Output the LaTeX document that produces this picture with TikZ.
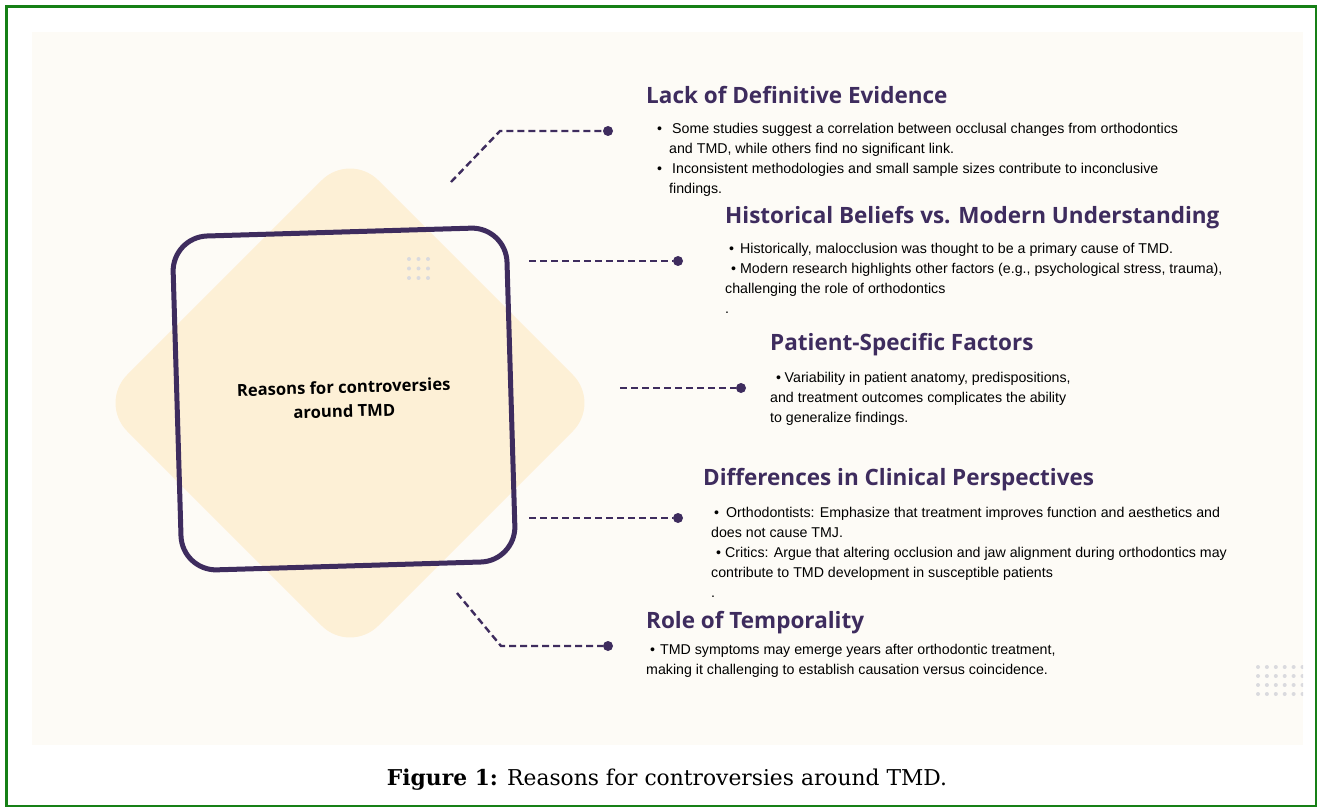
\documentclass[tikz,border=0pt]{standalone}
\usepackage{fontspec}
\setmainfont{DejaVu Serif}
\setsansfont{Liberation Sans}
\newfontfamily\headfont{Open Sans}
\usetikzlibrary{positioning}

\definecolor{tmdpurple}{RGB}{62,44,94}
\definecolor{tmdpeach}{RGB}{253,240,214}
\definecolor{tmdpanel}{RGB}{253,251,246}
\definecolor{tmdgreen}{RGB}{22,128,22}
\definecolor{tmddot}{RGB}{218,218,222}

\newcommand{\bul}{\textbullet}

\tikzset{
  heading/.style={anchor=base west, inner sep=0pt, text=tmdpurple,
    font=\headfont\bfseries\fontsize{22.5}{26}\selectfont},
  bullets/.style={anchor=north west, inner sep=0pt, align=left,
    font=\sffamily\fontsize{14.2}{20}\selectfont},
  link/.style={draw=tmdpurple, line width=2.4pt, dash pattern=on 7pt off 4pt},
  tip/.style={circle, fill=tmdpurple, inner sep=0pt, minimum size=10pt},
  greydot/.style={fill=tmddot},
}

\begin{document}
\begin{tikzpicture}[x=1pt, y=-1pt]
  \useasboundingbox (0,0) rectangle (1320,810);
  % frame and panel
  \draw[tmdgreen, line width=2.5pt] (6.5,6.5) rectangle (1316,806);
  \fill[tmdpanel] (32,32) rectangle (1303,745);

  % tilted peach square behind the hub
  \node[rectangle, fill=tmdpeach, rounded corners=40pt, minimum size=355pt,
        rotate=45] (backdrop) at (350,403) {};

  % dot grids
  \foreach \i in {0,1,2}
    \foreach \j in {0,1,2}
      \fill[greydot] (409+9.5*\i, 259+9.5*\j) circle (2pt);
  \begin{scope}
    \clip (32,32) rectangle (1303,745);
    \foreach \i in {0,...,5}
      \foreach \j in {0,...,3}
        \fill[greydot] (1258+8.9*\i, 667+9*\j) circle (2pt);
  \end{scope}

  % hub
  \node[draw=tmdpurple, line width=5pt, rounded corners=35pt,
        minimum size=334pt, rotate=1.7, align=center,
        font=\headfont\bfseries\fontsize{16.6}{24}\selectfont] (hub) at (344,399)
        {Reasons for controversies\\around TMD};

  % connectors
  \coordinate (l1a) at (451,182);
  \coordinate (l1b) at (500,131);
  \coordinate (l2a) at (529,261);
  \coordinate (l3a) at (620,388);
  \coordinate (l4a) at (529,518);
  \coordinate (l5a) at (457,593);
  \coordinate (l5b) at (501,646);
  \node[tip] (t1) at (608,131) {};
  \node[tip] (t2) at (678,261) {};
  \node[tip] (t3) at (741,388) {};
  \node[tip] (t4) at (678,518) {};
  \node[tip] (t5) at (608,646) {};

  \draw[link] (l1a) -- (l1b) -- (t1.west);
  \draw[link] (l2a) -- (t2.west);
  \draw[link] (l3a) -- (t3.west);
  \draw[link] (l4a) -- (t4.west);
  \draw[link] (l5a) -- (l5b) -- (t5.west);

  % headings
  \node[heading] (h1) at (646,104) {Lack of Definitive Evidence};
  \node[heading] (h2) at (725,224) {Historical Beliefs vs. Modern Understanding};
  \node[heading] (h3) at (770,350) {Patient-Specific Factors};
  \node[heading] (h4) at (703,485) {Differences in Clinical Perspectives};
  \node[heading] (h5) at (646,628) {Role of Temporality};

  % bullet text
  \node[bullets] (b1) at (657,123) {%
    \bul\hspace{10pt}Some studies suggest a correlation between occlusal changes from orthodontics\\
    \hspace{12pt}and TMD, while others find no significant link.\\
    \bul\hspace{10pt}Inconsistent methodologies and small sample sizes contribute to inconclusive\\
    \hspace{12pt}findings.};
  \node[bullets] (b2) at (725,243) {%
    \hspace{4pt}\bul\hspace{6pt}Historically, malocclusion was thought to be a primary cause of TMD.\\
    \hspace{6pt}\bul\hspace{4pt}Modern research highlights other factors (e.g., psychological stress, trauma),\\
    challenging the role of orthodontics\\
    .};
  \node[bullets] (b3) at (770,372) {%
    \hspace{6pt}\bul\hspace{3.5pt}Variability in patient anatomy, predispositions,\\
    and treatment outcomes complicates the ability\\
    to generalize findings.};
  \node[bullets] (b4) at (711,507) {%
    \hspace{3pt}\bul\hspace{7pt}Orthodontists: Emphasize that treatment improves function and aesthetics and\\
    does not cause TMJ.\\
    \hspace{5pt}\bul\hspace{4pt}Critics: Argue that altering occlusion and jaw alignment during orthodontics may\\
    contribute to TMD development in susceptible patients\\
    .};
  \node[bullets] (b5) at (646,644) {%
    \hspace{4pt}\bul\hspace{5pt}TMD symptoms may emerge years after orthodontic treatment,\\
    making it challenging to establish causation versus coincidence.};

  % caption
  \node[anchor=base, inner sep=0pt, font=\fontsize{21.8}{24}\selectfont] (caption) at (667,785)
    {\textbf{Figure 1:} Reasons for controversies around TMD.};
\end{tikzpicture}
\end{document}
